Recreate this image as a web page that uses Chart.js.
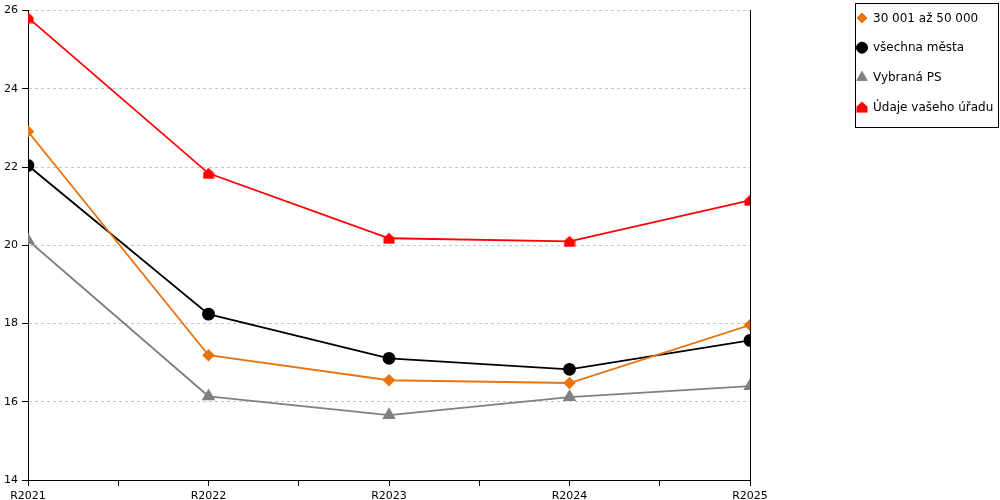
<!DOCTYPE html>
<html>
<head>
<meta charset="utf-8">
<script src="https://cdn.jsdelivr.net/npm/chart.js@4/dist/chart.umd.min.js"></script>
<style>
  html,body{margin:0;padding:0;background:#fff;}
  #wrap{position:relative;width:1000px;height:500px;}
</style>
</head>
<body>
<div id="wrap"><canvas id="c"></canvas></div>
<script>
// ── data ─────────────────────────────────────────────
const years      = ['R2021','R2022','R2023','R2024','R2025'];
const seriesNames = ['30 001 až 50 000','všechna města','Vybraná PS','Údaje vašeho úřadu'];
const valsOrange = [22.91, 17.19, 16.55, 16.48, 17.96];
const valsBlack  = [22.04, 18.24, 17.11, 16.83, 17.57];
const valsGray   = [20.13, 16.14, 15.66, 16.12, 16.40];
const valsRed    = [25.82, 21.84, 20.18, 20.10, 21.15];
const yTicks     = [14, 16, 18, 20, 22, 24, 26];

const FONT = 'DejaVu Sans';

// house-shaped marker for "Údaje vašeho úřadu"
function houseMarker(){
  const cv=document.createElement('canvas');
  cv.width=12; cv.height=12;
  const g=cv.getContext('2d');
  g.fillStyle='#ff0000';
  g.beginPath();
  g.moveTo(6,0.5); g.lineTo(11.5,5.5); g.lineTo(11.5,11.5);
  g.lineTo(0.5,11.5); g.lineTo(0.5,5.5); g.closePath();
  g.fill();
  return cv;
}
const house = houseMarker();

const toXY = arr => arr.map((v,i)=>({x:i,y:v}));

const styles = [
  {color:'#e8730f', point:'rectRot',  r:5},
  {color:'#000000', point:'circle',   r:5.5},
  {color:'#808080', point:'triangle', r:6},
  {color:'#ff0000', point:house,      r:6}
];
const allVals = [valsOrange, valsBlack, valsGray, valsRed];

const datasets = allVals.map((vals,k)=>({
  label: seriesNames[k],
  data: toXY(vals),
  borderColor: styles[k].color,
  backgroundColor: styles[k].color,
  pointBackgroundColor: styles[k].color,
  pointBorderColor: styles[k].color,
  pointStyle: styles[k].point,
  pointRadius: styles[k].r,
  pointHoverRadius: styles[k].r,
  borderWidth: 1.8,
  tension: 0
}));

// legend box on the right
const boxLegend = {
  id:'boxLegend',
  afterDraw(chart){
    const ctx=chart.ctx;
    ctx.save();
    ctx.strokeStyle='#000'; ctx.lineWidth=1;
    ctx.strokeRect(855.5, 3.5, 143, 124);
    ctx.font='12px "'+FONT+'"';
    ctx.textBaseline='middle'; ctx.textAlign='left';
    seriesNames.forEach((name,k)=>{
      const y = 18 + k*29.7;
      const st = styles[k];
      ctx.fillStyle=st.color; ctx.strokeStyle=st.color;
      Chart.helpers.drawPoint(ctx,{pointStyle:st.point, radius:st.r, borderWidth:1, rotation:0}, 862, y);
      ctx.fillStyle='#000';
      ctx.fillText(name, 873, y+0.5);
    });
    ctx.restore();
  }
};

new Chart(document.getElementById('c'), {
  type:'line',
  data:{datasets},
  plugins:[boxLegend],
  options:{
    responsive:true, maintainAspectRatio:false, animation:false,
    layout:{padding:{left:0, top:10, right:250, bottom:0}},
    plugins:{legend:{display:false}, tooltip:{enabled:false}},
    scales:{
      x:{
        type:'linear', min:0, max:years.length-1,
        afterFit(s){ s.height=20; },
        // labels only at whole years, blank minor ticks at the half steps
        ticks:{stepSize:0.5, autoSkip:false, maxRotation:0, padding:4,
               color:'#000', font:{family:FONT, size:11},
               callback:v => Number.isInteger(v) ? years[v] : ''},
        grid:{display:true, drawOnChartArea:false, drawTicks:true,
              tickLength:6, tickColor:'#000', color:'#000'},
        border:{display:true, color:'#000', width:1}
      },
      y:{
        position:'left', min:yTicks[0], max:yTicks[yTicks.length-1],
        afterFit(s){ s.width=28; },
        afterBuildTicks(s){ s.ticks = yTicks.map(v=>({value:v})); },
        ticks:{padding:4, color:'#000', font:{family:FONT, size:11}},
        grid:{color:c => (c.tick && c.tick.value===yTicks[0]) ? 'rgba(0,0,0,0)' : '#c4c4c4',
              tickColor:'#000', tickLength:6, lineWidth:1},
        border:{display:true, color:'#000', width:1, dash:[3,3]}
      },
      yR:{
        position:'right', min:yTicks[0], max:yTicks[yTicks.length-1],
        afterFit(s){ s.width=0; },
        ticks:{display:false},
        grid:{display:false},
        border:{display:true, color:'#000', width:1}
      }
    }
  }
});
</script>
</body>
</html>
